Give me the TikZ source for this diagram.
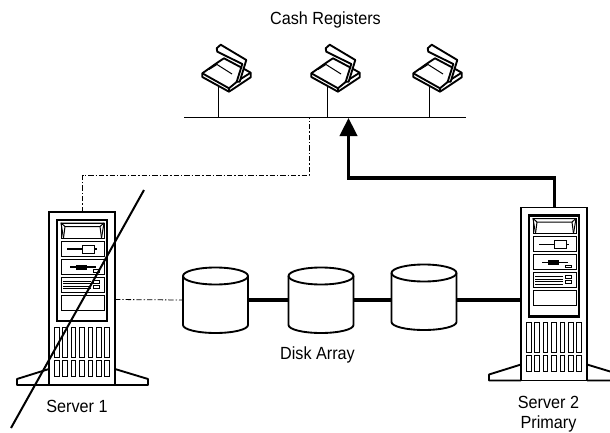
\documentclass[tikz,border=0pt]{standalone}
\usepackage{fontspec}
\setmainfont[FakeStretch=0.92]{Liberation Sans}
\usetikzlibrary{arrows.meta}
\tikzset{
  thinln/.style={line width=0.75pt},
  outln/.style={line width=1.4pt},
  heavyln/.style={line width=2.4pt},
  chain/.style={line width=0.6pt, dash pattern=on 4pt off 1.5pt on 1pt off 1.5pt},
  lbl/.style={font=\fontsize{13.2}{15}\selectfont, inner sep=0pt},
  disk/.pic={
    \draw[outln, fill=white] (-32.5,-24) -- (-32.5,25) arc[start angle=180, end angle=0, x radius=32.5, y radius=8] -- (32.5,-24) arc[start angle=0, end angle=-180, x radius=32.5, y radius=8.5] -- cycle;
    \draw[outln] (-32.5,-24) arc[start angle=180, end angle=0, x radius=32.5, y radius=8.5];
    \coordinate (-west) at (-32.5,0);
    \coordinate (-east) at (32.5,0);
  },
  server/.pic={
    % feet
    \draw[outln, line join=round] (0,173) -- (-32,173) -- (-32,167) -- (0,157);
    \draw[outln, line join=round] (66,173) -- (99,173) -- (99,167) -- (66,157);
    % body
    \draw[outln, fill=white] (0,0) rectangle (66,173);
    \draw[line width=1.7pt] (8,8) rectangle (58,109);
    % bays
    \draw[thinln] (12,11) rectangle (55,26);
    \draw[thinln] (14.5,26) -- (12,11) -- (55,11) -- (52.5,26);
    \draw[thinln] (12,11) -- (16,14.5) -- (51,14.5) -- (55,11);
    \draw[thinln] (16,14.5) -- (14.5,26);
    \draw[thinln] (51,14.5) -- (52.5,26);
    \draw[thinln] (12,29) rectangle (55,44);
    \draw[outln] (18,37) -- (48,37);
    \draw[thinln, fill=white] (33,33) rectangle (45,41);
    \draw[thinln] (12,47) rectangle (55,62);
    \draw[outln] (21,55) -- (47,55);
    \draw[thinln, fill=black] (27,53) rectangle (37,57);
    \draw[thinln] (44,60) rectangle (50,57.5);
    \draw[thinln] (12,65) rectangle (55,80);
    \foreach \yy in {69,71.5,74,76.5} \draw[thinln] (14,\yy) -- (42,\yy);
    \draw[thinln] (44,68) rectangle (50,71);
    \draw[thinln] (44,73) rectangle (50,76);
    \draw[thinln] (12,83) rectangle (55,98);
    % vents
    \foreach \vv in {0,...,6} {
      \draw[thinln] (5.5+8.4*\vv,115) rectangle (10+8.4*\vv,145);
      \draw[thinln] (5.5+8.4*\vv,148) rectangle (10+8.4*\vv,164);
    }
    \coordinate (-top) at (33.5,0);
    \coordinate (-east) at (66,87.5);
    \coordinate (-west) at (0,92.5);
  },
  register/.pic={
    % base
    \draw[outln, line join=round, fill=white] (-15.7,-16.7) -- (-15.7,-13) -- (11,1.7) -- (32.7,-12.7) -- (32.7,-17.3) -- (26.7,-20.7) -- (6,-31.7) -- (-0.7,-27.3) -- cycle;
    \draw[outln, line join=round] (-15.7,-16.7) -- (11,-1.7) -- (21,-10);
    \draw[outln, line join=round] (11,-1.7) -- (11,1.7);
    \draw[outln] (21,-10) -- (32.7,-17.3);
    \draw[thinln] (-9,-20.5) -- (-1,-25.5) -- (14,-16);
    % rail
    \draw[outln, line join=round, fill=white] (-0.7,-38.3) -- (-1.3,-41.7) -- (2.7,-45.3) -- (28.3,-30) -- (21.7,-8.3) -- (18.7,-8.3) -- (24.3,-26) -- cycle;
    \coordinate (-stem) at (0,-3);
  }
}
\begin{document}
\begin{tikzpicture}[x=0.75pt, y=-0.75pt]
\useasboundingbox (0,0) rectangle (610,432);
\pic (regA) at (218,90) {register};
\pic (regB) at (327,90) {register};
\pic (regC) at (429,90) {register};
\pic (srvA) at (49,212) {server};
\pic (srvB) at (521,207.5) {server};
\pic (diskA) at (215.5,300) {disk};
\pic (diskB) at (321,300) {disk};
\pic (diskC) at (424,297) {disk};
\coordinate (busL) at (184,117.5);
\coordinate (busR) at (466,117.5);
\coordinate (busTap) at (309,117.5);
\coordinate (busIn) at (348.5,118);
\coordinate (jogA) at (309,175);
\coordinate (jogB) at (348.5,178);
\coordinate (slashA) at (144,190);
\coordinate (slashB) at (11,428);
\draw[thinln] (busL) -- (busR);
\draw[thinln] (regA-stem) -- (regA-stem |- busL);
\draw[thinln] (regB-stem) -- (regB-stem |- busL);
\draw[thinln] (regC-stem) -- (regC-stem |- busL);
\draw[chain] (srvA-top) |- (jogA) -- (busTap);
\draw[chain] (srvA-east) -- (diskA-west);
\draw[heavyln] (diskA-east) -- (diskB-west);
\draw[heavyln] (diskB-east) -- (diskC-west |- diskB-east);
\draw[heavyln] (diskC-east |- diskB-east) -- (srvB-west);
\draw[heavyln, -{Triangle[length=13.5pt, width=13pt]}] (srvB-top) -- (srvB-top |- jogB) -| (busIn);
\draw[line width=1.5pt] (slashA) -- (slashB);
\node[lbl] (cashlbl) at (325.5,20) {Cash Registers};
\node[lbl] (disklbl) at (317.5,355) {Disk Array};
\node[lbl] (srvAlbl) at (77,406) {Server 1};
\node[lbl] (srvBlbl) at (548.5,402) {Server 2};
\node[lbl] (primlbl) at (548.5,424) {Primary};
\end{tikzpicture}
\end{document}
